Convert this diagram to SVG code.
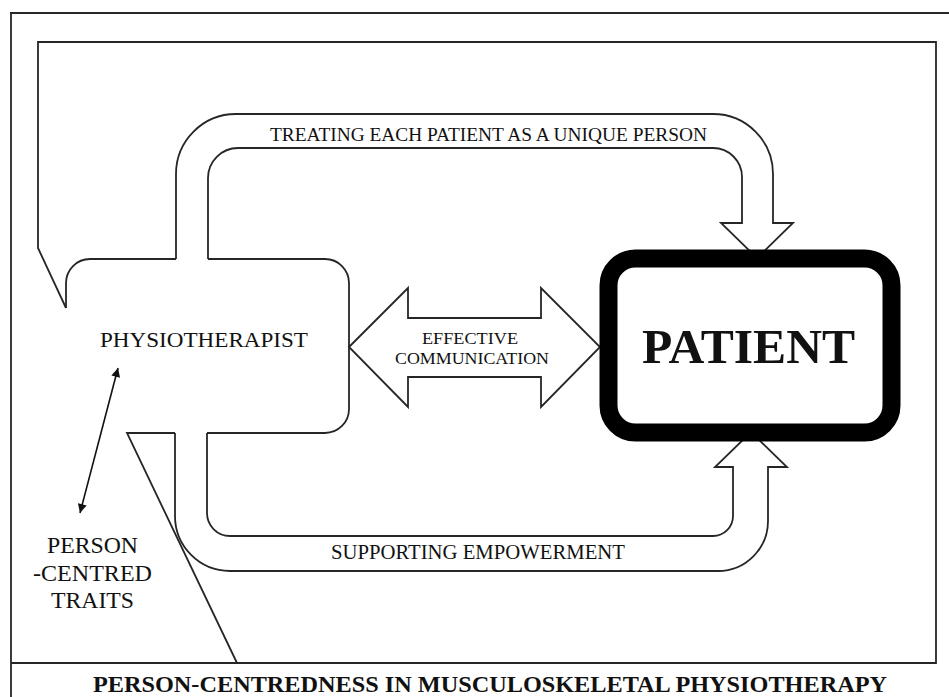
<svg xmlns="http://www.w3.org/2000/svg" width="949" height="697" viewBox="0 0 949 697">
  <style>
    .ln { fill: none; stroke: #262626; stroke-width: 1.8; stroke-linejoin: miter; }
    .shape { fill: #ffffff; stroke: #262626; stroke-width: 1.8; }
    .t { font-family: "Liberation Serif", "Times New Roman", serif; fill: #111111; }
    .b { font-weight: bold; }
  </style>
  <defs>
    <marker id="head" viewBox="0 0 10 10" refX="10" refY="5" markerWidth="10" markerHeight="9" markerUnits="userSpaceOnUse" orient="auto-start-reverse">
      <path d="M0,0 L10,5 L0,10 Z" fill="#111111"/>
    </marker>
  </defs>
  <rect x="0" y="0" width="949" height="697" fill="#ffffff"/>

  <g id="frame">
    <path class="ln" d="M 10 13 L 949 13 M 11 13 L 11 697"/>
  </g>

  <g id="connectors">
    <!-- feedback loop from physiotherapist to the frame -->
    <path class="ln" d="M 66 308 L 38 248 L 38 42 L 936 42 L 936 663 L 11 663"/>
    <!-- tail down to the title -->
    <path class="ln" d="M 175 433 L 127 433 L 237 663"/>
    <!-- treating each patient as a unique person -->
    <path class="ln" d="M 176 259 L 176 174 A 60 60 0 0 1 236 114 L 713 114 A 60 60 0 0 1 773 174 L 773 223 L 793 223 L 757 258 L 721 223 L 742 223 L 742 177 A 29 29 0 0 0 713 148 L 238 148 A 30 30 0 0 0 208 178 L 208 259"/>
    <!-- supporting empowerment -->
    <path class="ln" d="M 175 433 L 175 516 A 55 55 0 0 0 230 571 L 718 571 A 50 50 0 0 0 768 521 L 768 467 L 787 467 L 751 432 L 715 467 L 733 467 L 733 516 A 20 20 0 0 1 713 536 L 230 536 A 23 23 0 0 1 207 513 L 207 433"/>
    <!-- effective communication -->
    <polygon class="shape" points="349,347 408,288 408,318 541,318 541,288 600,347 541,407 541,377 408,377 408,407"/>
    <!-- person-centred traits link -->
    <line x1="80" y1="513" x2="118" y2="368" stroke="#111111" stroke-width="1.6" marker-start="url(#head)" marker-end="url(#head)"/>
  </g>

  <g id="physiotherapist">
    <path class="ln" d="M 66 308 L 66 283 A 24 24 0 0 1 90 259 L 176 259 M 208 259 L 325 259 A 24 24 0 0 1 349 283 L 349 409 A 24 24 0 0 1 325 433 L 207 433"/>
    <text class="t" x="100" y="347" font-size="22" textLength="208" lengthAdjust="spacingAndGlyphs">PHYSIOTHERAPIST</text>
  </g>

  <g id="labels">
    <text class="t" x="270" y="141" font-size="19" textLength="437" lengthAdjust="spacingAndGlyphs">TREATING EACH PATIENT AS A UNIQUE PERSON</text>
    <text class="t" x="331" y="559" font-size="20" textLength="294" lengthAdjust="spacingAndGlyphs">SUPPORTING EMPOWERMENT</text>
    <text class="t" x="422" y="344" font-size="17.5" textLength="96" lengthAdjust="spacingAndGlyphs">EFFECTIVE</text>
    <text class="t" x="395" y="364" font-size="17.5" textLength="154" lengthAdjust="spacingAndGlyphs">COMMUNICATION</text>
  </g>

  <g id="patient">
    <rect x="608.5" y="258.5" width="283" height="174" rx="27" ry="27" fill="#ffffff" stroke="#000000" stroke-width="18"/>
    <text class="t b" x="642" y="363" font-size="48" textLength="213" lengthAdjust="spacingAndGlyphs">PATIENT</text>
  </g>

  <g id="traits">
    <text class="t" x="47" y="553" font-size="24" textLength="91" lengthAdjust="spacingAndGlyphs">PERSON</text>
    <text class="t" x="33" y="581" font-size="24" textLength="119" lengthAdjust="spacingAndGlyphs">-CENTRED</text>
    <text class="t" x="51" y="608" font-size="24" textLength="83" lengthAdjust="spacingAndGlyphs">TRAITS</text>
  </g>

  <g id="title">
    <text class="t b" x="93" y="692" font-size="24" textLength="794" lengthAdjust="spacingAndGlyphs">PERSON-CENTREDNESS IN MUSCULOSKELETAL PHYSIOTHERAPY</text>
  </g>
</svg>
